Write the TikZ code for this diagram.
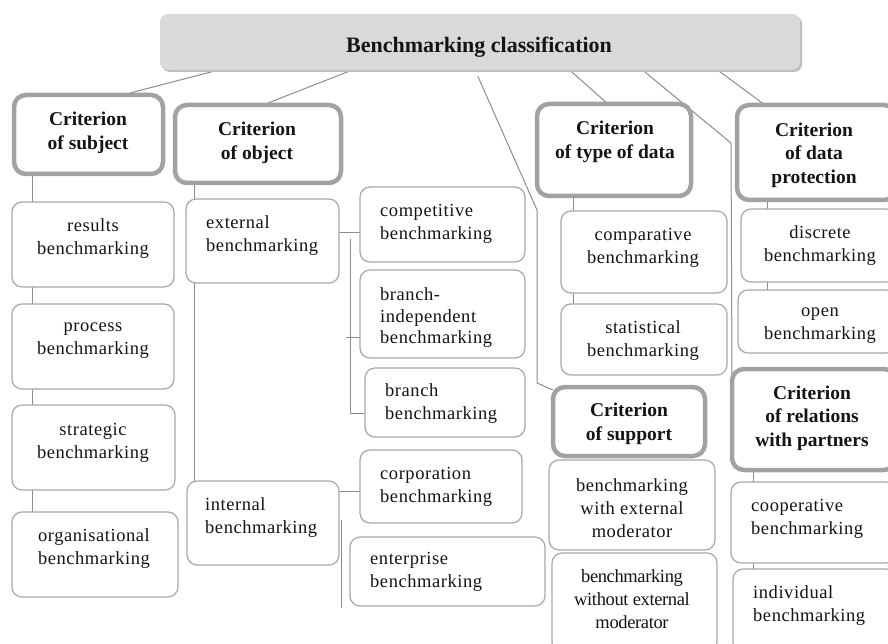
\documentclass[tikz,border=0pt]{standalone}
\usepackage{fontspec}
\setmainfont{Liberation Serif}
\usetikzlibrary{fit,backgrounds}
\definecolor{ink}{HTML}{141414}
\definecolor{linegray}{HTML}{8C8C8C}
\definecolor{boxgray}{HTML}{A8A8A8}
\definecolor{critgray}{HTML}{A2A2A2}
\definecolor{titlegray}{HTML}{D9D9D9}
\definecolor{shadowgray}{HTML}{BDBDBD}
\newcommand\leaffont{\fontsize{18.5}{23}\selectfont\addfontfeatures{LetterSpace=3}}
\newcommand\critfont{\bfseries\fontsize{19.5}{23.5}\selectfont}
\newcommand\titlefont{\bfseries\fontsize{22}{26}\selectfont}
\tikzset{
  conn/.style={draw=linegray, line width=1pt},
  crit/.style={draw=critgray, line width=4.5pt, rounded corners=12pt, fill=white, inner sep=0pt, outer sep=0pt},
  leaf/.style={draw=boxgray, line width=1.2pt, rounded corners=10pt, fill=white, inner sep=0pt, outer sep=0pt},
  ctext/.style={font=\critfont, align=center, inner sep=0pt, text=ink, yshift=-2pt},
  ltext/.style={font=\leaffont, align=center, inner sep=0pt, text=ink, yshift=-3pt},
  lleft/.style={font=\leaffont, align=left, inner sep=0pt, text=ink, anchor=west, yshift=-3pt},
}
\begin{document}
\begin{tikzpicture}[x=1pt,y=-1pt]
\useasboundingbox (0,0) rectangle (888,644);
\clip (0,0) rectangle (888,644);

% title
\node[fill=shadowgray, rounded corners=8pt, inner sep=0pt, fit={(162,16) (802,72)}] (titlesh) {};
\node[fill=titlegray, rounded corners=8pt, inner sep=0pt, fit={(160,14) (800,70)}] (title) {};
\node[font=\titlefont, text=ink, inner sep=0pt] (title-t) at (479,47) {Benchmarking classification};

% criteria boxes
\node[crit, fit={(14,95) (163,174)}] (sub) {};
\node[ctext] (sub-t) at (88,131) {Criterion\\of subject};
\node[crit, fit={(175,105) (341,183)}] (obj) {};
\node[ctext] (obj-t) at (257,141) {Criterion\\of object};
\node[crit, fit={(537,104) (691,196)}] (typ) {};
\node[ctext] (typ-t) at (615,140) {Criterion\\of type of data};
\node[crit, fit={(737,105) (896,200)}] (prot) {};
\node[ctext] (prot-t) at (814,153) {Criterion\\of data\\protection};
\node[crit, fit={(553,387) (705,456)}] (sup) {};
\node[ctext] (sup-t) at (629,422) {Criterion\\of support};
\node[crit, fit={(732,369) (896,470)}] (rel) {};
\node[ctext] (rel-t) at (812,416) {Criterion\\of relations\\with partners};

% subject leaves
\node[leaf, fit={(12,202) (174,287)}] (res) {};
\node[ltext] (res-t) at (93,236) {results\\benchmarking};
\node[leaf, fit={(12,304) (174,389)}] (proc) {};
\node[ltext] (proc-t) at (93,338) {process\\benchmarking};
\node[leaf, fit={(12,405) (175,490)}] (strat) {};
\node[ltext] (strat-t) at (93,440) {strategic\\benchmarking};
\node[leaf, fit={(12,512) (178,597)}] (org) {};
\node[ltext] (org-t) at (94,546) {organisational\\benchmarking};

% object leaves
\node[leaf, fit={(186,199) (339,283)}] (ext) {};
\node[lleft] (ext-t) at (206,233) {external\\benchmarking};
\node[leaf, fit={(187,481) (339,565)}] (int) {};
\node[lleft] (int-t) at (205,515) {internal\\benchmarking};
\node[leaf, fit={(360,187) (525,262)}] (comp) {};
\node[lleft] (comp-t) at (380,221) {competitive\\benchmarking};
\node[leaf, fit={(360,270) (525,358)}] (bind) {};
\node[lleft, font=\fontsize{18.5}{21.5}\selectfont\addfontfeatures{LetterSpace=3}] (bind-t) at (380,315) {branch-\\independent\\benchmarking};
\node[leaf, fit={(365,368) (525,437)}] (bra) {};
\node[lleft] (bra-t) at (385,401) {branch\\benchmarking};
\node[leaf, fit={(360,450) (522,523)}] (corp) {};
\node[lleft] (corp-t) at (380,484) {corporation\\benchmarking};
\node[leaf, fit={(350,537) (545,606)}] (ent) {};
\node[lleft] (ent-t) at (370,569) {enterprise\\benchmarking};

% type of data leaves
\node[leaf, fit={(561,211) (727,293)}] (cmp) {};
\node[ltext] (cmp-t) at (643,245) {comparative\\benchmarking};
\node[leaf, fit={(561,304) (727,375)}] (stat) {};
\node[ltext] (stat-t) at (643,338) {statistical\\benchmarking};

% protection leaves
\node[leaf, fit={(741,209) (896,282)}] (disc) {};
\node[ltext] (disc-t) at (820,243) {discrete\\benchmarking};
\node[leaf, fit={(738,290) (896,353)}] (open) {};
\node[ltext] (open-t) at (820,323) {open\\benchmarking};

% support leaves
\node[leaf, fit={(549,460) (715,550)}] (wext) {};
\node[ltext] (wext-t) at (632,505) {benchmarking\\with external\\moderator};
\node[leaf, fit={(552,553) (717,652)}] (woext) {};
\node[ltext, font=\fontsize{18.5}{23}\selectfont\addfontfeatures{LetterSpace=-2}] (woext-t) at (632,596) {benchmarking\\without external\\moderator};

% relations leaves
\node[leaf, fit={(731,482) (896,563)}] (coop) {};
\node[lleft] (coop-t) at (751,516) {cooperative\\benchmarking};
\node[leaf, fit={(733,569) (896,652)}] (ind) {};
\node[lleft] (ind-t) at (753,603) {individual\\benchmarking};

% connectors
\coordinate (s1) at (537,210);
\coordinate (s2) at (537,383);
\coordinate (r1) at (731,143);
\coordinate (eT) at (350,239);
\coordinate (eB) at (350,413);
\coordinate (eM) at (346,337);
\coordinate (iT) at (341,520);
\coordinate (iB) at (341,608);
\begin{scope}[on background layer]
\draw[conn] ([xshift=58pt]title.south west) -- ([xshift=116pt,yshift=2pt]sub.north west);
\draw[conn] ([xshift=192pt]title.south west) -- ([xshift=93pt,yshift=2pt]obj.north west);
\draw[conn] ([xshift=318pt,yshift=-6pt]title.south west) -- (s1) -- (s2) -- ([yshift=-3pt]sup.north west);
\draw[conn] ([xshift=410pt]title.south west) -- ([xshift=71pt]typ.north west);
\draw[conn] ([xshift=483pt]title.south west) -- (r1) -- ([yshift=-10pt]rel.north west);
\draw[conn] ([xshift=558pt]title.south west) -- ([xshift=28pt]prot.north west);
\draw[conn] (32,0 |- sub.south) -- (32,0 |- org.north);
\draw[conn] (194,0 |- obj.south) -- (194,0 |- int.north);
\draw[conn] (ext.east |- 0,233) -- (comp.west |- 0,233);
\draw[conn] (eT) -- (eB) -- (bra.west |- eB);
\draw[conn] (eM) -- (bind.west |- eM);
\draw[conn] (int.east |- 0,491) -- (corp.west |- 0,491);
\draw[conn] (iT) -- (iB);
\draw[conn] (573,0 |- typ.south) -- (573,0 |- stat.north);
\draw[conn] (767,0 |- prot.south) -- (767,0 |- open.north);
\draw[conn] (753,0 |- rel.south) -- (753,0 |- ind.north);
\end{scope}
\end{tikzpicture}
\end{document}
